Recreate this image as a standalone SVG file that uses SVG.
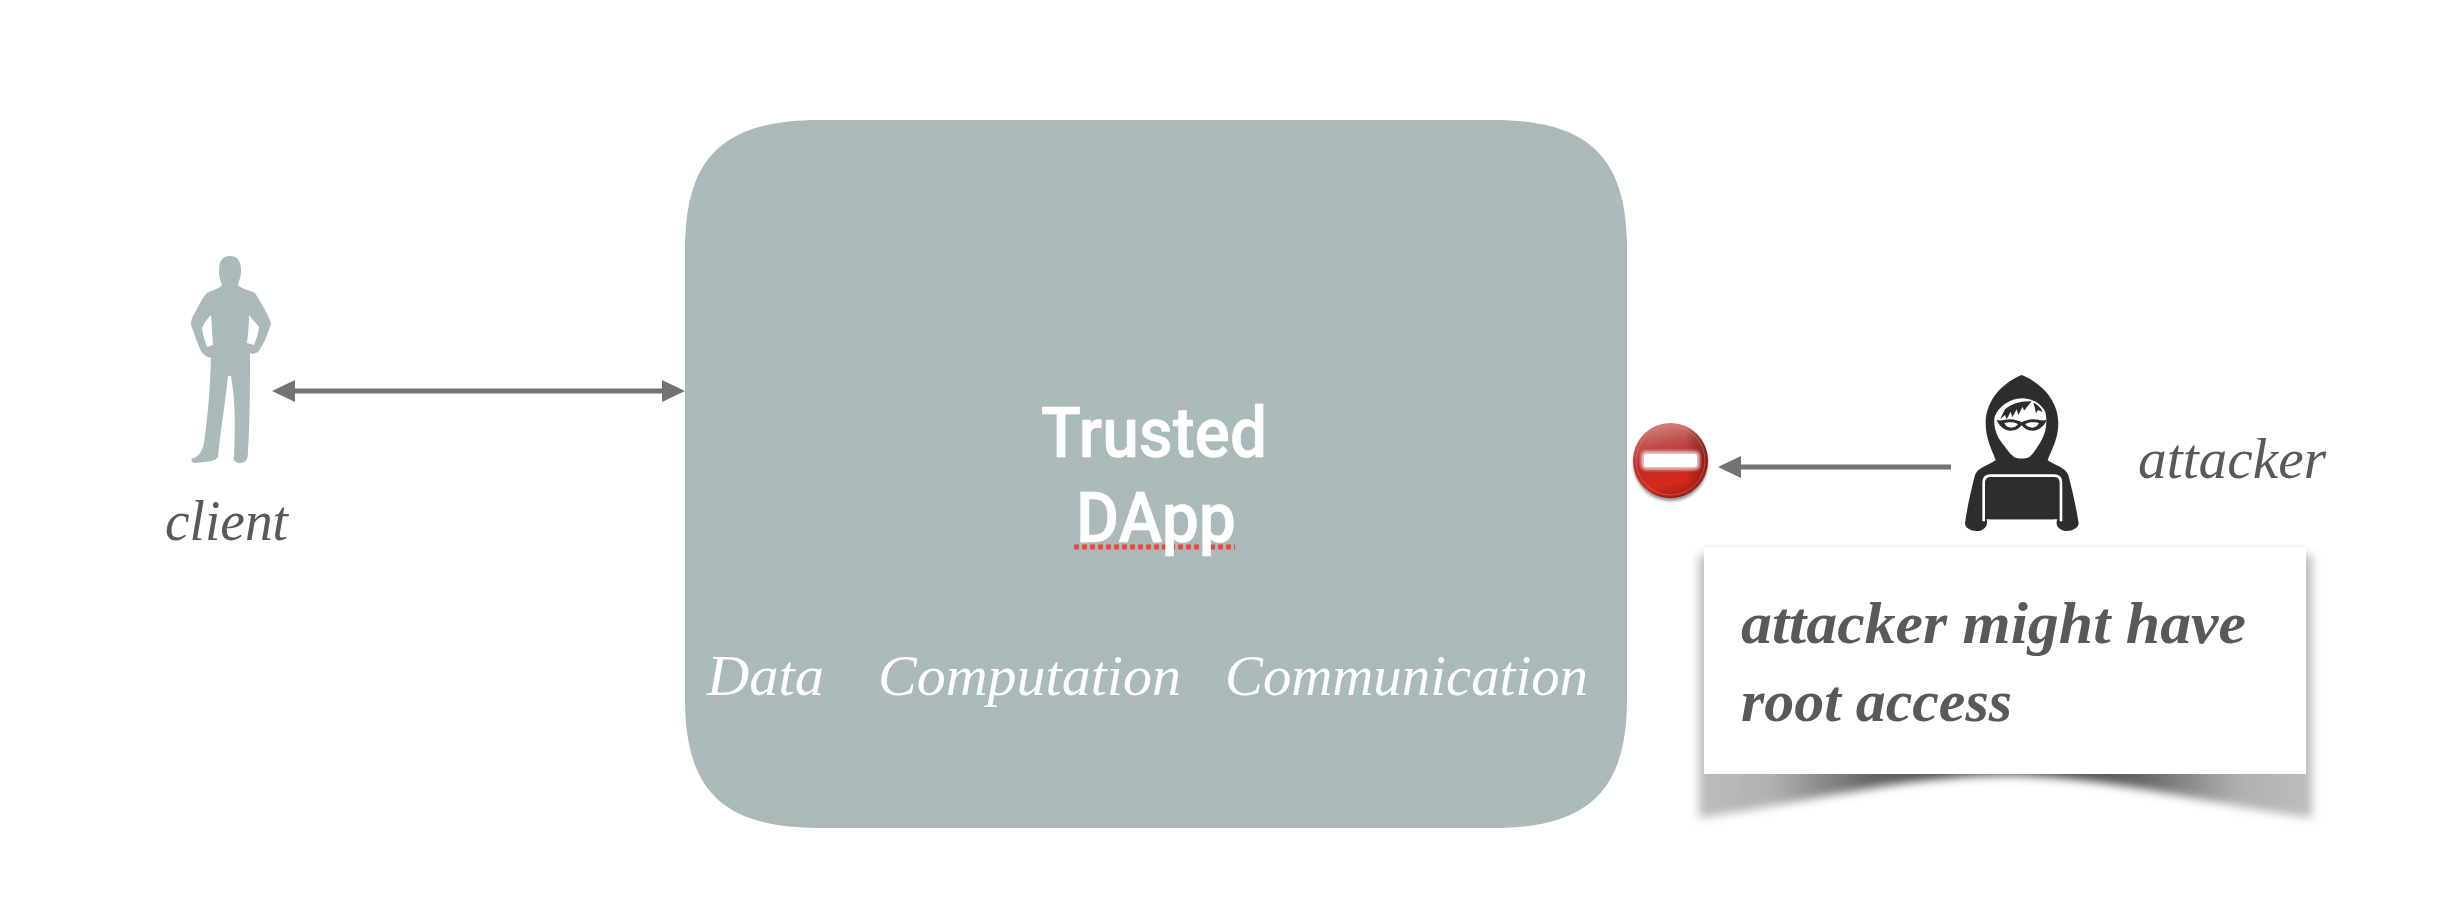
<svg xmlns="http://www.w3.org/2000/svg" width="2452" height="924" viewBox="0 0 2452 924">
<style>
.it{font-family:"Liberation Serif",serif;font-style:italic;}
.lbl{font-size:56px;fill:#595959;}
.in{font-size:58px;fill:#fff;}
.card{font-size:60px;font-weight:bold;fill:#595959;}
.ttl{font-family:Roboto,"Liberation Sans",sans-serif;font-weight:500;font-size:70px;fill:#fff;stroke:#fff;stroke-width:.6;}
.conn{stroke:#737373;stroke-width:5;fill:none;}
</style>
<defs>
<marker id="ah" markerUnits="userSpaceOnUse" markerWidth="24" markerHeight="24" viewBox="0 0 24 24" refX="1" refY="12" orient="auto-start-reverse"><path d="M0 1 L23 12 L0 23 Z" fill="#737373"/></marker>
<linearGradient id="sh" x1="0" x2="1" y1="0" y2="0">
<stop offset="0" stop-color="#bdbdbd"/><stop offset=".12" stop-color="#b0b0b0"/><stop offset=".28" stop-color="#666"/><stop offset=".4" stop-color="#4a4a4a"/><stop offset=".6" stop-color="#4a4a4a"/><stop offset=".72" stop-color="#666"/><stop offset=".88" stop-color="#b0b0b0"/><stop offset="1" stop-color="#bdbdbd"/>
</linearGradient>
<filter id="bl" x="-5%" y="-10%" width="110%" height="120%"><feGaussianBlur stdDeviation="5"/></filter>
<filter id="bl2" x="-30%" y="-30%" width="160%" height="160%"><feGaussianBlur stdDeviation="1.5"/></filter>
<linearGradient id="red" x1=".35" y1="0" x2=".55" y2="1">
<stop offset="0" stop-color="#d4807b"/><stop offset=".3" stop-color="#bf4a45"/><stop offset=".55" stop-color="#c22a22"/><stop offset=".8" stop-color="#d62a1c"/><stop offset="1" stop-color="#a81c14"/>
</linearGradient>
<linearGradient id="rim" x1="0" y1="0" x2="1" y2="0"><stop offset="0" stop-color="#000" stop-opacity="0"/><stop offset=".7" stop-color="#000" stop-opacity="0"/><stop offset="1" stop-color="#400" stop-opacity=".4"/></linearGradient>
</defs>

<rect width="2452" height="924" fill="#fff"/>

<g id="connectors">
<line class="conn" x1="294" y1="391" x2="663" y2="391" marker-start="url(#ah)" marker-end="url(#ah)"/>
<line class="conn" x1="1951" y1="467" x2="1740" y2="467" marker-end="url(#ah)"/>
</g>

<g id="client">
<path fill="#aab9b9" fill-rule="evenodd" d="M230 256 C238 256 241 262 241 270 C241 277 239 281 238 285 C241 289 250 290 255 293 C261 303 267 312 271 323 C268 335 263 345 258 352 C255 354 252 354 250 353 C250 385 250 420 248 450 C248 456 248 462 241 463 C235 463 233 460 234 457 C235 430 236 405 231 376 L228 376 C225 405 220 435 218 457 C217 461 205 462 196 463 C191 463 190 460 193 458 C198 457 202 452 204 443 C208 415 210 390 211 358 C206 357 203 354 201 351 C197 343 195 335 191 325 C191 317 194 315 197 309 C200 303 203 297 207 293 C212 290 219 289 222 285 C220 280 219 277 219 270 C219 262 222 256 230 256 Z M211 315 C207 319 204 323 202 328 C203 335 205 342 207 347 L213 345 C212 335 212 325 211 315 Z M249 315 C252 319 256 323 259 327 C258 335 256 340 254 345 L247 343 C248 335 249 325 249 315 Z"/>
<text class="it lbl" x="165" y="540" textLength="123" lengthAdjust="spacingAndGlyphs">client</text>
</g>

<g id="dapp">
<path fill="#aab9b9" d="M820 120 H1492 C1590 120 1627 158 1627 250 V698 C1627 790 1590 828 1492 828 H820 C722 828 685 790 685 698 V250 C685 158 722 120 820 120 Z"/>
<text class="ttl" x="1041" y="457" textLength="226" lengthAdjust="spacingAndGlyphs">Trusted</text>
<line x1="1074" y1="547" x2="1235" y2="547" stroke="#e8483a" stroke-width="5" stroke-dasharray="5 3"/>
<text class="ttl" x="1076" y="542" textLength="160" lengthAdjust="spacingAndGlyphs">DApp</text>
<text class="it in" x="707" y="695" textLength="117" lengthAdjust="spacingAndGlyphs">Data</text>
<text class="it in" x="878" y="695" textLength="303" lengthAdjust="spacingAndGlyphs">Computation</text>
<text class="it in" x="1225" y="695" textLength="363" lengthAdjust="spacingAndGlyphs">Communication</text>
</g>

<g id="no-entry">
<ellipse cx="1670.5" cy="464" rx="37" ry="37" fill="#444" opacity=".6" filter="url(#bl2)"/>
<circle cx="1670.5" cy="460.5" r="37.5" fill="url(#red)"/>
<circle cx="1670.5" cy="460.5" r="37.5" fill="url(#rim)"/>
<circle cx="1670.5" cy="460.5" r="34.5" fill="none" stroke="#e58a85" stroke-opacity=".45" stroke-width="1"/>
<path d="M1634 469 A37.5 37.5 0 0 0 1707 469 A37 34 0 0 1 1634 469 Z" fill="#6d0f0b" opacity=".85"/>
<rect x="1641" y="451" width="59" height="19" rx="5" fill="#e8e4ee" opacity=".8" filter="url(#bl2)"/>
<rect x="1644" y="454" width="53" height="13" rx="3" fill="#fff"/>
</g>

<g id="attacker">
<g transform="translate(1950 360) scale(.3333)">
<path fill="#2d2d2d" d="M215 45 C265 65 325 115 325 190 C325 235 305 270 293 300 C310 315 345 320 355 345 C368 395 378 440 386 490 C385 505 365 515 345 513 C325 510 315 495 322 478 L110 478 C115 495 105 510 85 513 C65 515 45 505 45 490 C52 440 62 395 75 345 C85 320 120 315 137 300 C125 270 107 235 107 190 C107 115 165 65 215 45 Z"/>
<path fill="#fff" d="M215 115 C250 115 280 135 287 160 C292 190 288 215 275 240 C262 262 250 282 238 291 C225 297 205 297 192 291 C178 280 160 255 146 235 C135 212 130 190 134 170 C145 140 180 115 215 115 Z"/>
<path fill="#2d2d2d" d="M150 178 L165 148 C185 130 215 122 245 124 L222 152 L218 140 L205 165 L200 148 L187 172 L182 155 L170 178 L165 165 Z M250 128 C262 132 272 142 278 156 L264 150 L258 160 L254 142 Z"/>
<path fill="#2d2d2d" fill-rule="evenodd" d="M140 180 C155 184 165 178 180 178 C195 178 205 182 215 187 C225 182 235 178 250 178 C265 178 275 184 290 180 C282 198 268 212 248 212 C232 212 222 205 215 196 C208 205 198 212 182 212 C162 212 148 198 140 180 Z M163 190 C168 200 176 203 184 203 C192 203 200 199 204 193 C198 188 190 187 182 187 C174 187 168 188 163 190 Z M267 190 C262 200 254 203 246 203 C238 203 230 199 226 193 C232 188 240 187 248 187 C256 187 262 188 267 190 Z"/>
<path fill="none" stroke="#fff" stroke-width="8" d="M101 484 L101 368 C101 353 110 347 122 347 L312 347 C325 347 333 353 333 368 L333 484"/>
<rect x="108" y="358" width="214" height="120" rx="14" fill="#2d2d2d"/>
</g>
<text class="it lbl" x="2138" y="478" textLength="188" lengthAdjust="spacingAndGlyphs">attacker</text>
</g>

<g id="note">
<path d="M1699 555 H2312 V818 C2200 802 2100 775 2005 775 C1910 775 1810 802 1699 818 Z" fill="url(#sh)" filter="url(#bl)"/>
<rect x="1704" y="546" width="602" height="228" fill="#fff"/>
<line x1="1704" y1="546" x2="2306" y2="546" stroke="#f2f2f2" stroke-width="1.5"/>
<text class="it card" x="1741" y="643" textLength="505" lengthAdjust="spacingAndGlyphs">attacker might have</text>
<text class="it card" x="1741" y="721" textLength="271" lengthAdjust="spacingAndGlyphs">root access</text>
</g>
</svg>
